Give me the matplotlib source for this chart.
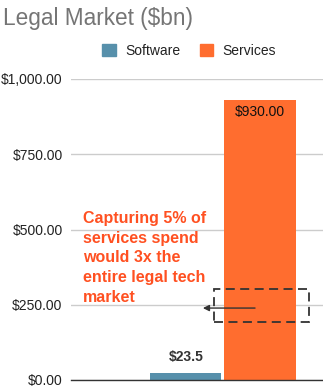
import matplotlib
matplotlib.use("Agg")
import matplotlib.pyplot as plt
from matplotlib.patches import Rectangle, Patch

plt.rcParams['font.family'] = ['Liberation Sans', 'DejaVu Sans']

series = ["Software", "Services"]
values = [23.5, 930.0]
labels = ["$23.5", "$930.00"]
colors = ["#5790AB", "#FF6D2F"]
yticks = [0, 250, 500, 750, 1000]
ytick_labels = ["$0.00", "$250.00", "$500.00", "$750.00", "$1,000.00"]
title = "Legal Market ($bn)"
note = "Capturing 5% of\nservices spend\nwould 3x the\nentire legal tech\nmarket"

W, H = 323, 390
fig = plt.figure(figsize=(W / 100, H / 100), dpi=100)
ax = fig.add_axes([71 / W, 10 / H, (323 - 71) / W, (380 - 79) / H])

w = 0.35
gap = 0.015
offsets = [-(w + gap) / 2, (w + gap) / 2]
for i, (v, c) in enumerate(zip(values, colors)):
    ax.bar(offsets[i], v, width=w, color=c, zorder=3)

ax.set_xlim(-0.749, 0.493)
ax.set_ylim(0, 1000)
ax.set_yticks(yticks)
ax.set_yticklabels(ytick_labels, fontsize=10, color="#222222")
ax.set_xticks([])
ax.tick_params(axis='y', length=0, pad=6)
for s in ["top", "right", "left"]:
    ax.spines[s].set_visible(False)
ax.spines["bottom"].set_color("#333333")
ax.spines["bottom"].set_linewidth(1.0)
ax.spines["bottom"].set_zorder(4)
ax.yaxis.grid(True, color="#cccccc", linewidth=1.0, zorder=0)
ax.set_axisbelow(True)

# data labels
ax.text(offsets[0], values[0] + 30, labels[0], ha="center", va="bottom",
        fontsize=10, fontweight="bold", color="#333333", zorder=5)
ax.text(offsets[1], values[1] - 18, labels[1], ha="center", va="top",
        fontsize=10, color="#111111", zorder=5)

# annotation text
ax.text(-0.69, 562, note, ha="left", va="top", fontsize=11.5,
        fontweight="bold", color="#FF5021", linespacing=1.4, zorder=5)

# dashed box and arrow
rect = Rectangle((-0.044, 193), 0.468, 109, fill=False, edgecolor="#333333",
                 linestyle=(0, (5, 3)), linewidth=1.3, zorder=6)
ax.add_patch(rect)
ax.annotate("", xy=(-0.099, 239), xytext=(0.158, 239),
            arrowprops=dict(arrowstyle="-|>", color="#333333", lw=1.0,
                            mutation_scale=9, shrinkA=0, shrinkB=0),
            zorder=6)

fig.text(3 / W, 1 - 18 / H, title, ha="left", va="center", fontsize=16.3,
         color="#757575")

handles = [Patch(facecolor=c, edgecolor=c, label=s) for s, c in zip(series, colors)]
fig.legend(handles=handles, loc="center", bbox_to_anchor=(189 / W, 1 - 51 / H),
           ncol=2, frameon=False, fontsize=10, handlelength=1.0,
           handleheight=1.0, handletextpad=0.65, columnspacing=1.4,
           labelcolor="#222222")

fig.savefig("out.png", dpi=100)
